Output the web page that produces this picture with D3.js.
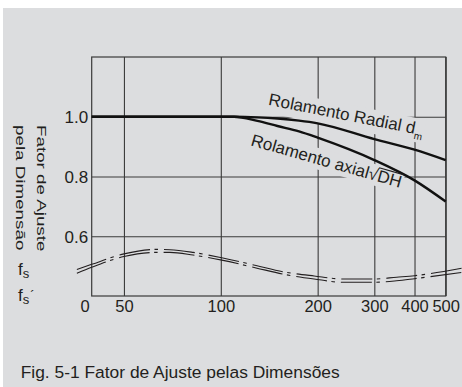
<!DOCTYPE html>
<html>
<head>
<meta charset="utf-8">
<script src="https://cdn.jsdelivr.net/npm/d3@7"></script>
<style>
  html, body { margin: 0; padding: 0; background: #ffffff; }
  svg { display: block; font-family: "Liberation Sans", Arial, Helvetica, sans-serif; }
</style>
</head>
<body>
<svg id="chart" width="462" height="387"></svg>
<script>
// ---- data ---------------------------------------------------------------
// x axis is logarithmic; its left edge carries the label "0"
const xOrigin = 39.7;
const xMax = 500;
const xTicks = [50, 100, 200, 300, 400, 500];
const xTickLabels = ["50", "100", "200", "300", "400", "500"];
const xOriginLabel = "0";
const yMin = 0.4, yMax = 1.2;
const yTicks = [0.6, 0.8, 1.0];
const yTickLabels = ["0.6", "0.8", "1.0"];

// radial bearings (d_m)
const radialX = [39.7, 110, 130, 150, 175, 200, 300, 400, 500];
const radialY = [1.0, 1.0, 0.998, 0.994, 0.987, 0.978, 0.925, 0.89, 0.855];

// thrust bearings (sqrt(DH))
const axialX = [39.7, 110, 130, 150, 175, 200, 300, 400, 500];
const axialY = [1.0, 1.0, 0.986, 0.969, 0.951, 0.93, 0.855, 0.787, 0.716];

// fs and fs' curves (double dash-dot band)
const fsX = [35.7, 39.7, 50, 63, 69.5, 82, 100.7, 128.7, 156.5, 195, 240, 300, 352, 400, 562];
const fsY = [0.489, 0.506, 0.541, 0.556, 0.555, 0.546, 0.528, 0.502, 0.481, 0.467, 0.457, 0.457, 0.463, 0.468, 0.493];
const fsPrimeY = [0.476, 0.496, 0.532, 0.546, 0.546, 0.537, 0.520, 0.494, 0.473, 0.457, 0.446, 0.446, 0.451, 0.458, 0.479];

const titleText = "Fig. 5-1 Fator de Ajuste pelas Dimensões";
const yTitleLines = ["Fator de Ajuste", "pela Dimensão"];

// ---- layout & style ------------------------------------------------------
const W = 462, H = 387;
const BG = "#dcdddf";
const INK = "#231f20";
const GRID = "#3a3a3a";
const plot = { left: 91.7, right: 445.7, top: 57, bottom: 296 };

const svg = d3.select("#chart");
svg.append("rect").attr("x", 3).attr("y", 8).attr("width", W - 3).attr("height", H - 8).attr("fill", BG);

const x = d3.scaleLog().domain([xOrigin, xMax]).range([plot.left, plot.right]);
const y = d3.scaleLinear().domain([yMin, yMax]).range([plot.bottom, plot.top]);

// ---- grid + tick labels --------------------------------------------------
const gx = svg.append("g")
  .attr("transform", `translate(0,${plot.bottom})`)
  .call(d3.axisBottom(x)
    .tickValues(xTicks)
    .tickFormat((d, i) => xTickLabels[i])
    .tickSize(-(plot.bottom - plot.top))
    .tickSizeOuter(0));
gx.attr("font-size", null).attr("font-family", null);
gx.select(".domain").remove();
gx.selectAll(".tick line").attr("stroke", GRID).attr("stroke-width", 1.1);
gx.selectAll(".tick text")
  .attr("y", 15.5).attr("dy", null)
  .attr("fill", INK).style("font-size", "16.5px");

gx.append("text")
  .attr("x", x(xOrigin) - 2).attr("y", 15.5)
  .attr("text-anchor", "end")
  .attr("fill", INK).style("font-size", "16.5px")
  .text(xOriginLabel);

const gy = svg.append("g")
  .attr("transform", `translate(${plot.left},0)`)
  .call(d3.axisLeft(y)
    .tickValues(yTicks)
    .tickFormat((d, i) => yTickLabels[i])
    .tickSize(-(plot.right - plot.left))
    .tickSizeOuter(0));
gy.attr("font-size", null).attr("font-family", null);
gy.select(".domain").remove();
gy.selectAll(".tick line").attr("stroke", GRID).attr("stroke-width", 1.1);
gy.selectAll(".tick text")
  .attr("x", -3.5).attr("dy", "0.36em")
  .attr("fill", INK).style("font-size", "17px");

const haloLayer = svg.append("g");

svg.append("rect")
  .attr("x", plot.left).attr("y", plot.top)
  .attr("width", plot.right - plot.left).attr("height", plot.bottom - plot.top)
  .attr("fill", "none").attr("stroke", GRID).attr("stroke-width", 1.2);

// ---- curves --------------------------------------------------------------
const line = d3.line()
  .x(d => x(d[0]))
  .y(d => y(d[1]))
  .curve(d3.curveMonotoneX);

const curves = svg.append("g").attr("fill", "none");
curves.append("path").attr("d", line(d3.zip(radialX, radialY)))
  .attr("stroke", "#111").attr("stroke-width", 2.4).attr("stroke-linecap", "butt");
curves.append("path").attr("d", line(d3.zip(axialX, axialY)))
  .attr("stroke", "#111").attr("stroke-width", 2.4).attr("stroke-linecap", "butt");

[fsY, fsPrimeY].forEach(ys => {
  curves.append("path").attr("d", line(d3.zip(fsX, ys)))
    .attr("stroke", INK).attr("stroke-width", 1.1)
    .attr("stroke-dasharray", "31,4.5,3.5,6");
});

// ---- curve labels (with background boxes that mask the grid) -------------
const textLayer = svg.append("g").attr("fill", INK);

function curveLabel(xv, yv, angle, build) {
  const tf = `translate(${x(xv)},${y(yv)}) rotate(${angle})`;
  const g = textLayer.append("g").attr("transform", tf);
  const t = g.append("text").style("font-size", "17px");
  build(t, g);
  const bb = g.node().getBBox();
  haloLayer.append("rect")
    .attr("transform", tf)
    .attr("x", bb.x - 1).attr("y", bb.y - 1)
    .attr("width", bb.width + 2).attr("height", bb.height + 2)
    .attr("fill", BG);
}

curveLabel(140, 1.04, 11.2, t => {
  t.append("tspan").text("Rolamento Radial d");
  t.append("tspan").attr("dy", 5).style("font-size", "10px").text("m");
});

curveLabel(123.3, 0.905, 15.9, (t, g) => {
  t.append("tspan").text("Rolamento axial");
  t.append("tspan").text("√");
  t.append("tspan").text("DH");
  const node = t.node();
  const n1 = "Rolamento axial".length;
  const sqrtStart = node.getSubStringLength(0, n1);
  const sqrtW = node.getSubStringLength(n1, 1);
  const total = node.getComputedTextLength();
  g.append("line")
    .attr("x1", sqrtStart + sqrtW - 0.8).attr("x2", total + 0.5)
    .attr("y1", -13.6).attr("y2", -13.6)
    .attr("stroke", INK).attr("stroke-width", 1.1);
});

// ---- fs / fs' labels -----------------------------------------------------
const fsLabel = svg.append("g").attr("fill", INK);
const t1 = fsLabel.append("text").attr("x", 18).attr("y", 275).style("font-size", "17px");
t1.append("tspan").text("f");
t1.append("tspan").attr("dy", 2.5).style("font-size", "13px").text("s");

const t2 = fsLabel.append("text").attr("x", 18).attr("y", 301).style("font-size", "17px");
t2.append("tspan").text("f");
t2.append("tspan").attr("dy", 2.5).style("font-size", "13px").text("s");
t2.append("tspan").attr("dy", -4).attr("dx", 1).style("font-size", "13px").text("´");

// ---- y axis title (rotated, two lines) -----------------------------------
const yTitle = svg.append("g").attr("fill", INK);
[[37.3, yTitleLines[0]], [16.0, yTitleLines[1]]].forEach(([bx, s]) => {
  yTitle.append("text")
    .attr("transform", `translate(${bx},125) rotate(90) scale(1,0.72)`)
    .style("font-size", "18.8px")
    .text(s);
});

// ---- caption -------------------------------------------------------------
svg.append("text")
  .attr("x", 20.7).attr("y", 378)
  .attr("fill", INK).style("font-size", "17.4px")
  .text(titleText);
</script>
</body>
</html>
